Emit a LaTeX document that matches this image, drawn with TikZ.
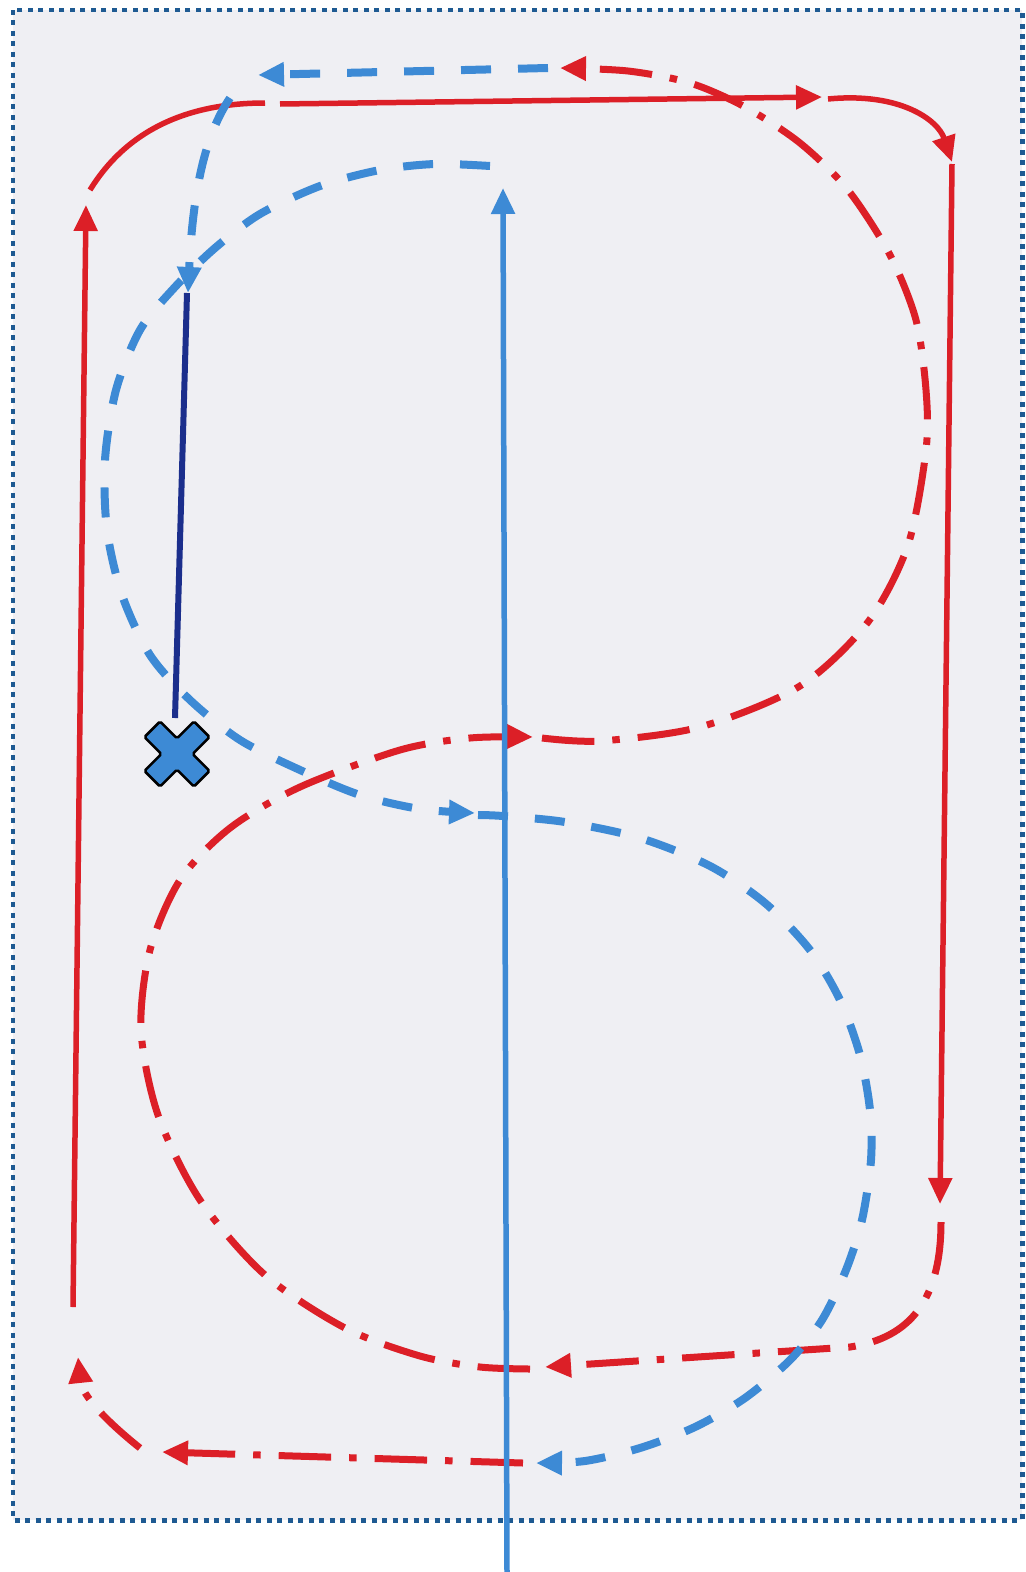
\documentclass[tikz,border=0pt]{standalone}
\usetikzlibrary{arrows.meta}
\definecolor{rojo}{HTML}{DC1F27}
\definecolor{azul}{HTML}{3D8AD5}
\definecolor{marino}{HTML}{1B2E8C}
\definecolor{borde}{HTML}{1E5A92}
\definecolor{fondo}{HTML}{EFEFF3}
\begin{document}
\begin{tikzpicture}
  [x=0.02cm,y=-0.02cm,
   punta/.style={-{Triangle[length=0.52cm,width=0.46cm]}},
   patin/.style={rojo,line width=0.11cm,punta},
   ruta/.style={rojo,line width=0.14cm,punta,dash pattern=on 1.05cm off 0.36cm on 0.15cm off 0.36cm},
   pase/.style={azul,line width=0.16cm,punta,dash pattern=on 0.6cm off 0.54cm},
   disco/.style={azul,line width=0.11cm,punta},
   conduce/.style={marino,line width=0.12cm}]
\useasboundingbox (0,0) rectangle (1025,1572);
% Fondo y borde punteado
\fill[white] (0,0) rectangle (1025,1572);
\draw[borde,fill=fondo,line width=0.1cm,dash pattern=on 0.1cm off 0.11cm] (13,10) rectangle (1022,1520);

% Patinaje (rojo continuo)
\draw[patin] (73,1307) -- (86,205);
\draw[rojo,line width=0.11cm] (90,190) .. controls (130,125) and (195,103) .. (265,103);
\draw[patin] (280,104) -- (822,97);
\draw[patin] (828,99) .. controls (900,92) and (938,120) .. (952,162);
\draw[patin] (952,164) -- (940,1204);

% Recorrido (rojo punto y raya)
\draw[ruta] (941,1222) .. controls (941,1300) and (910,1338) .. (850,1347) -- (545,1367);
\draw[ruta] plot[smooth] coordinates {(530,1369) (480,1367) (420,1356) (345,1328) (265,1275)
  (200,1200) (158,1115) (141,1030) (150,950) (180,880) (230,828) (300,787) (400,750) (470,738) (533,737)};
\draw[ruta] plot[smooth] coordinates {(542,738) (600,741) (700,727) (800,686) (868,622) (908,545)
  (926,450) (926,390) (916,320) (890,255) (848,190) (800,143) (745,107) (690,83) (628,71) (560,68)};
\draw[ruta] (523,1463) -- (162,1452);
\draw[ruta] (140,1448) .. controls (105,1420) and (82,1395) .. (78,1357);

% Pases (azul discontinuo)
\draw[pase] (548,68) -- (258,75);
\draw[pase] (230,98) .. controls (205,135) and (193,190) .. (188,293);
\draw[pase] plot[smooth] coordinates {(490,166) (435,164) (380,170) (320,186) (260,214) (215,248)
  (175,287) (140,330) (116,390) (105,460) (107,530) (122,595) (150,655) (190,700) (240,740)
  (300,770) (360,795) (420,809) (475,813)};
\draw[pase] plot[smooth] coordinates {(478,815) (503,816) (565,822) (640,838) (710,866) (765,903)
  (810,950) (840,1000) (860,1055) (870,1110) (871,1160) (862,1220) (846,1270) (822,1320)
  (790,1360) (745,1398) (695,1427) (640,1448) (585,1461) (536,1463)};

% Disco (azul continuo)
\draw[disco] (507,1572) -- (503,188);

% Conduccion y tiro
\coordinate (giro) at (187,293);
\coordinate (remate) at (175,718);
\coordinate (tiro) at (177,754);
\draw[conduce] (giro) -- (remate);
\filldraw[fill=azul,draw=black,line width=0.05cm,rounded corners=1pt,shift={(tiro)},rotate=45]
  (11,11) -- (35,11) -- (35,-11) -- (11,-11) -- (11,-35) -- (-11,-35) -- (-11,-11) -- (-35,-11)
  -- (-35,11) -- (-11,11) -- (-11,35) -- (11,35) -- cycle;
\end{tikzpicture}
\end{document}
